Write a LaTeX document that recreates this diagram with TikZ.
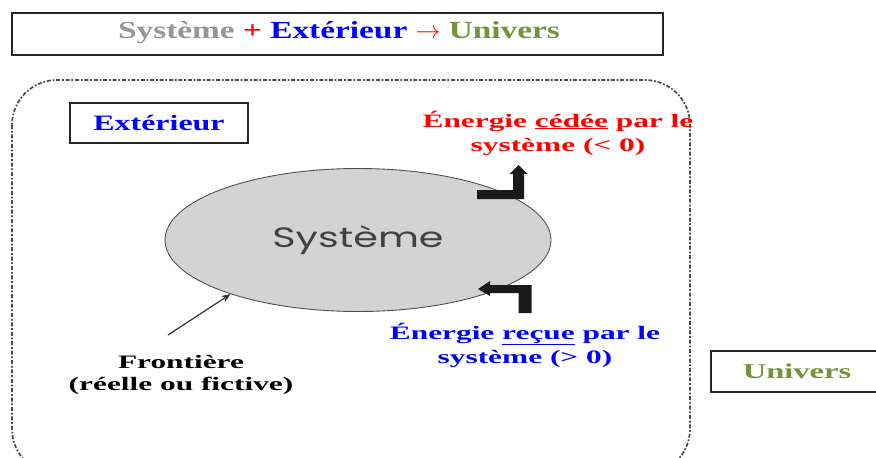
\documentclass[tikz,border=0pt]{standalone}
\usepackage{fontspec}
\setmainfont{Liberation Serif}
\newfontfamily\serA[FakeStretch=1.65]{Liberation Serif}
\newfontfamily\serB[FakeStretch=1.45]{Liberation Serif}
\newfontfamily\serU[FakeStretch=1.55]{Liberation Serif}
\newfontfamily\serC[FakeStretch=1.36]{Liberation Serif}
\newfontfamily\sansS[FakeStretch=1.42]{Poppins}
\usetikzlibrary{shapes.geometric,arrows.meta}
\definecolor{txtgrey}{RGB}{150,150,150}
\definecolor{olivegreen}{RGB}{118,146,60}
\definecolor{sysfill}{RGB}{211,211,211}
\definecolor{sysline}{RGB}{80,80,80}
\definecolor{systxt}{RGB}{70,64,64}
\definecolor{bordergrey}{RGB}{75,75,75}
\tikzset{
  frame/.style={draw=black!85, line width=1.3pt, fill=white},
  lbl/.style={inner sep=0pt, align=center},
  bigarrow/.style={fill=black!90, draw=none},
}
\begin{document}
\begin{tikzpicture}[x=1pt,y=-1pt]
\useasboundingbox (0,0) rectangle (876,458);
\clip (0,0) rectangle (876,458);
% universe dashed border
\draw[bordergrey, line width=1.7pt, rounded corners=45pt,
      dash pattern=on 4pt off 1.8pt on 1.8pt off 1.8pt]
  (12,80) rectangle (690,474);
% top box
\draw[frame] (12,13) rectangle (663,55);
\node[lbl, font=\serC\fontsize{24.5}{28}\selectfont\bfseries] (eq) at (339,33)
  {\textcolor{txtgrey}{Système} \textcolor{red}{+} \textcolor{blue}{Extérieur} \textcolor{red}{$\rightarrow$} \textcolor{olivegreen}{Univers}};
% Exterieur box
\draw[frame] (70,103) rectangle (248,143);
\node[lbl, font=\serB\fontsize{22}{26}\selectfont\bfseries, text=blue] (ext) at (159,123) {Extérieur};
% Univers box
\draw[frame] (711,351) rectangle (895,392);
\node[lbl, font=\serU\fontsize{21}{25}\selectfont\bfseries, text=olivegreen] (univ) at (797,371) {Univers};
% system ellipse
\node[ellipse, draw=sysline, line width=0.9pt, fill=sysfill, minimum width=386pt, minimum height=143pt, inner sep=0pt,
      font=\sansS\fontsize{28}{30}\selectfont, text=systxt] (sys) at (358,240) {Système};
% energy given (up arrow)
\fill[bigarrow] (477,190) -- (513,190) -- (513,174) -- (509.5,174) -- (518.5,165) -- (527.5,174) -- (524,174)
  -- (524,199) -- (477,199) -- cycle;
% energy received (left arrow)
\fill[bigarrow] (531.5,313) -- (518.5,313) -- (518.5,293) -- (490,293) -- (490,296) -- (478,289) -- (490,281)
  -- (490,285) -- (531.5,285) -- cycle;
% labels
\node[lbl, font=\serA\fontsize{19}{24}\selectfont\bfseries, text=red] (ced) at (558,133)
  {Énergie \underline{cédée} par le\\ système (< 0)};
\node[lbl, font=\serA\fontsize{19}{24}\selectfont\bfseries, text=blue] (rec) at (525,345)
  {Énergie \underline{reçue} par le\\ système (> 0)};
\node[lbl, font=\serA\fontsize{19}{22}\selectfont\bfseries, text=black] (front) at (181,375)
  {Frontière\\ (réelle ou fictive)};
% boundary pointer
\coordinate (fs) at (168,335);
\draw[black!80, line width=1.2pt, -{Stealth[length=9pt,width=7pt]}] (fs) -- (sys.203);
\end{tikzpicture}
\end{document}
